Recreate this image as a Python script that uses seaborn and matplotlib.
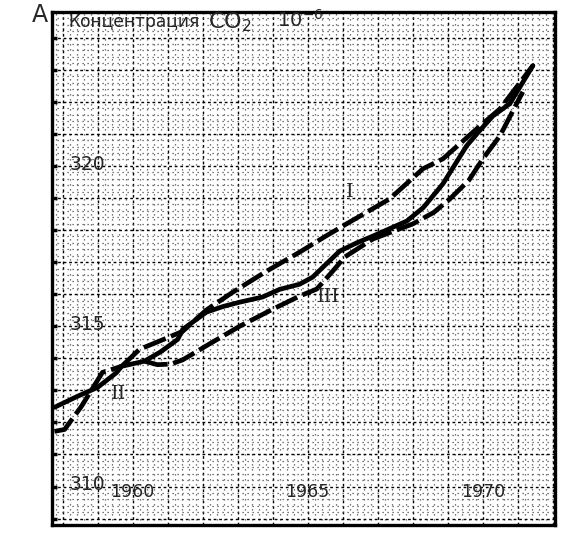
import numpy as np
import seaborn as sns
import matplotlib.pyplot as plt
from matplotlib.ticker import MultipleLocator

# observed CO2 (solid curve)
obs_year = [1957.77, 1958.4, 1959.0, 1959.54, 1959.69, 1960.34, 1960.8, 1961.29, 1961.43,
            1962.11, 1962.6, 1963.06, 1963.71, 1964.2, 1964.77, 1965.14, 1965.91,
            1966.4, 1966.86, 1967.83, 1968.3, 1968.86, 1969.54, 1969.91, 1970.29,
            1970.77, 1971.43]
obs_co2 = [312.47, 312.8, 313.09, 313.55, 313.75, 313.91, 314.2, 314.59, 314.9,
           315.44, 315.62, 315.75, 315.91, 316.15, 316.31, 316.53, 317.34,
           317.6, 317.81, 318.28, 318.7, 319.44, 320.63, 321.1, 321.56,
           321.94, 323.13]

# curve I (upper dashed)
c1_year = [1959.69, 1960.2, 1960.8, 1961.43, 1962.1, 1962.86, 1963.8, 1964.77, 1965.5,
           1966.2, 1967.34, 1968.29, 1968.86, 1969.83, 1970.49, 1971.43]
c1_co2 = [313.75, 314.28, 314.55, 314.84, 315.5, 316.06, 316.7, 317.31, 317.8,
          318.25, 318.97, 319.91, 320.22, 321.16, 321.78, 323.13]

# curve II (left dashed, joins observed)
c2_year = [1957.77, 1958.06, 1958.54, 1959.14, 1959.69]
c2_co2 = [311.72, 311.78, 312.5, 313.56, 313.75]

# curve III (lower dashed)
c3_year = [1960.34, 1960.71, 1961.1, 1961.43, 1962.2, 1963.06, 1964.0, 1964.77, 1965.26,
           1965.7, 1966.06, 1966.86, 1968.0, 1968.6, 1969.06, 1969.6, 1970.0, 1970.49,
           1971.14]
c3_co2 = [313.91, 313.8, 313.82, 313.95, 314.45, 315.0, 315.53, 315.94, 316.16,
          316.7, 317.16, 317.72, 318.19, 318.55, 318.97, 319.55, 320.22, 320.94,
          322.31]

year_ticks = [1960, 1965, 1970]
co2_ticks = [310, 315, 320]
curve_names = ["I", "II", "III"]

sns.set_style("white")
plt.rcParams['font.family'] = ['DejaVu Sans']

fig = plt.figure(figsize=(5.62, 5.38), dpi=100)
ax = fig.add_axes([52/562, 1 - 525/538, 503/562, 513/538])

ax.set_xlim(1957.7, 1972.06)
ax.set_ylim(308.8, 324.8)

# graph paper background
ax.xaxis.set_major_locator(MultipleLocator(1))
ax.yaxis.set_major_locator(MultipleLocator(1))
ax.xaxis.set_minor_locator(MultipleLocator(0.2))
ax.yaxis.set_minor_locator(MultipleLocator(0.2))
ax.grid(which='major', color='black', lw=1.0, ls=(0, (2, 2)))
ax.grid(which='minor', color='0.3', lw=0.9, ls=(0, (1, 3)))
ax.set_axisbelow(True)
ax.tick_params(which='both', labelbottom=False, labelleft=False, length=0)

for s in ax.spines.values():
    s.set_linewidth(2.4)
    s.set_color('black')

lw = 3.4
dash = (0, (5, 1.2))
sns.lineplot(x=obs_year, y=obs_co2, ax=ax, color='black', lw=lw)
sns.lineplot(x=c1_year, y=c1_co2, ax=ax, color='black', lw=lw, ls=dash)
sns.lineplot(x=c2_year, y=c2_co2, ax=ax, color='black', lw=lw, ls=dash)
sns.lineplot(x=c3_year, y=c3_co2, ax=ax, color='black', lw=lw, ls=dash)

# tick marks and labels inside the frame
for v in np.arange(309, 325, 1):
    ax.plot([1957.7, 1957.85], [v, v], color='black', lw=2.5, solid_capstyle='butt')
for y in year_ticks:
    ax.text(y, 309.55, str(y), ha='center', va='bottom', fontsize=12.5)
for c in co2_ticks:
    ax.text(1958.2, c + 0.05, str(c), ha='left', va='center', fontsize=13.5)

# heading inside the frame
fig.text(68/562, 1 - 22/538, "Концентрация", fontsize=12.3, ha='left', va='center')
fig.text(208/562, 1 - 22/538, "CO$_2$", fontsize=16, ha='left', va='center')
fig.text(277/562, 1 - 20/538, "10$^{-6}$", fontsize=14, ha='left', va='center')

ax.text(1966.2, 319.2, curve_names[0], fontsize=14, family='DejaVu Serif', ha='center', va='center')
ax.text(1959.6, 312.9, curve_names[1], fontsize=14, family='DejaVu Serif', ha='center', va='center')
ax.text(1965.6, 315.9, curve_names[2], fontsize=14, family='DejaVu Serif', ha='center', va='center')

fig.text(40/562, 1 - 15/538, "A", fontsize=17, ha='center', va='center')

fig.savefig("out.png", dpi=100)
